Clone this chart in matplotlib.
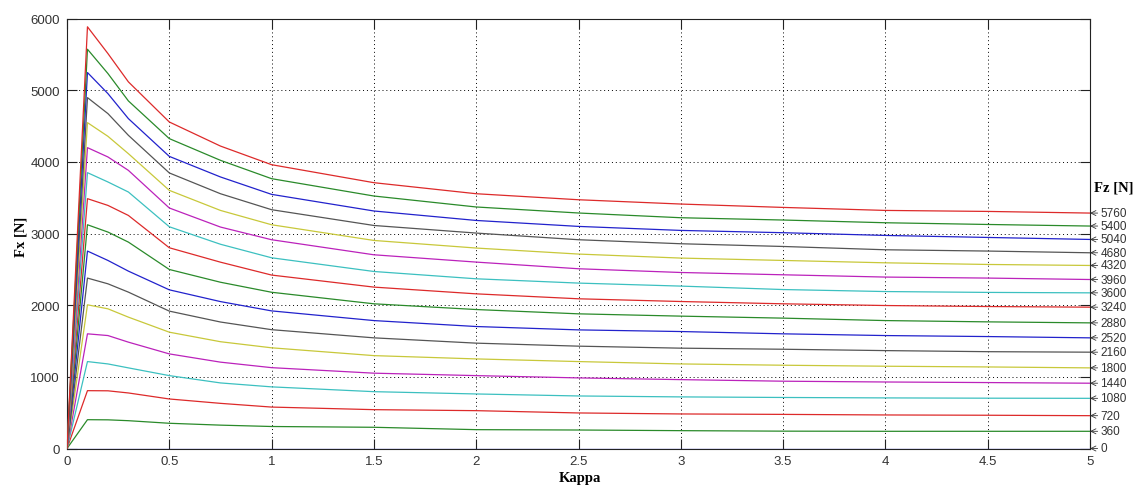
import matplotlib
matplotlib.use("Agg")
import matplotlib.pyplot as plt
import numpy as np

plt.rcParams['font.family'] = ['Liberation Sans', 'DejaVu Sans']

# kappa sample points
kappa = [0, 0.1, 0.2, 0.3, 0.5, 0.75, 1, 1.5, 2, 2.5, 3, 3.5, 4, 4.5, 5]

fz_values = [0, 360, 720, 1080, 1440, 1800, 2160, 2520, 2880,
             3240, 3600, 3960, 4320, 4680, 5040, 5400, 5760]

fx_0 = [0] * 15
fx_360 = [0, 402, 400, 388, 352, 326, 307, 296, 263, 258, 249, 242, 240, 240, 240]
fx_720 = [0, 807, 805, 775, 691, 630, 578, 542, 528, 496, 482, 476, 468, 464, 458]
fx_1080 = [0, 1213, 1180, 1125, 1017, 915, 860, 793, 761, 733, 720, 712, 706, 702, 700]
fx_1440 = [0, 1600, 1576, 1484, 1320, 1205, 1128, 1051, 1017, 985, 961, 939, 928, 920, 911]
fx_1800 = [0, 2005, 1949, 1833, 1623, 1490, 1405, 1296, 1250, 1213, 1180, 1162, 1148, 1138, 1125]
fx_2160 = [0, 2378, 2298, 2182, 1917, 1765, 1658, 1544, 1470, 1428, 1400, 1385, 1366, 1351, 1344]
fx_2520 = [0, 2755, 2624, 2475, 2214, 2050, 1920, 1785, 1702, 1655, 1632, 1600, 1576, 1562, 1544]
fx_2880 = [0, 3122, 3020, 2880, 2498, 2320, 2180, 2019, 1939, 1879, 1847, 1819, 1785, 1767, 1753]
fx_3240 = [0, 3486, 3392, 3252, 2801, 2600, 2420, 2252, 2158, 2089, 2051, 2019, 1995, 1981, 1972]
fx_3600 = [0, 3849, 3719, 3579, 3094, 2850, 2661, 2470, 2368, 2308, 2266, 2218, 2190, 2178, 2172]
fx_3960 = [0, 4198, 4068, 3881, 3356, 3090, 2913, 2703, 2601, 2508, 2456, 2424, 2392, 2378, 2358]
fx_4320 = [0, 4547, 4356, 4114, 3602, 3322, 3122, 2903, 2797, 2713, 2657, 2624, 2591, 2568, 2554]
fx_4680 = [0, 4896, 4673, 4370, 3845, 3555, 3332, 3112, 3006, 2913, 2857, 2819, 2773, 2755, 2731]
fx_5040 = [0, 5246, 4952, 4603, 4076, 3789, 3546, 3314, 3182, 3099, 3043, 3011, 2973, 2945, 2917]
fx_5400 = [0, 5571, 5232, 4850, 4324, 4021, 3765, 3523, 3370, 3286, 3220, 3188, 3150, 3126, 3104]
fx_5760 = [0, 5884, 5511, 5116, 4556, 4220, 3960, 3709, 3555, 3471, 3411, 3364, 3322, 3308, 3285]

curves = [fx_0, fx_360, fx_720, fx_1080, fx_1440, fx_1800, fx_2160, fx_2520, fx_2880,
          fx_3240, fx_3600, fx_3960, fx_4320, fx_4680, fx_5040, fx_5400, fx_5760]

# old matlab colour order b g r c m y k
colors = ['#2222cc', '#2a8a2a', '#dd2a2a', '#3cc0c0', '#bb22bb', '#c8c83a', '#555555']

fig = plt.figure(figsize=(11.41, 4.89), dpi=100)
ax = fig.add_axes([67/1141, 39.5/489, 1023/1141, 430/489])

for i, (fz, fx) in enumerate(zip(fz_values, curves)):
    ax.plot(kappa, fx, color=colors[i % 7], lw=0.9, zorder=3)
    ax.annotate(str(fz), xy=(5, fx[-1]), xytext=(7.5, 0), textcoords='offset points',
                fontsize=8.5, color='#333333', ha='left', va='center',
                annotation_clip=False,
                arrowprops=dict(arrowstyle='->', lw=0.6, color='#333333',
                                shrinkA=0, shrinkB=0, mutation_scale=9))

ax.set_xlim(0, 5)
ax.set_ylim(0, 6000)
ax.set_xticks(np.arange(0, 5.01, 0.5))
ax.set_xticklabels(['0', '0.5', '1', '1.5', '2', '2.5', '3', '3.5', '4', '4.5', '5'])
ax.set_yticks(np.arange(0, 6001, 1000))
ax.grid(True, color='black', linestyle=(0, (1, 3)), lw=0.7)
ax.set_axisbelow(True)
ax.tick_params(direction='in', length=7, width=0.8, top=True, right=True,
               labelsize=9.5, labelcolor='#333333', pad=5, color='#222222')
for s in ax.spines.values():
    s.set_color('#222222')
    s.set_linewidth(0.8)

fig.text(580/1141, 1 - 479/489, 'Kappa', family='Liberation Serif', weight='bold',
         fontsize=10.5, ha='center', va='center')
fig.text(21/1141, 1 - 237/489, 'Fx [N]', family='Liberation Serif', weight='bold',
         fontsize=10.5, ha='center', va='center', rotation=90)
fig.text(1094/1141, 1 - 188/489, 'Fz [N]', family='Liberation Serif', weight='bold',
         fontsize=10.5, ha='left', va='center')

fig.savefig('out.png', dpi=100)
